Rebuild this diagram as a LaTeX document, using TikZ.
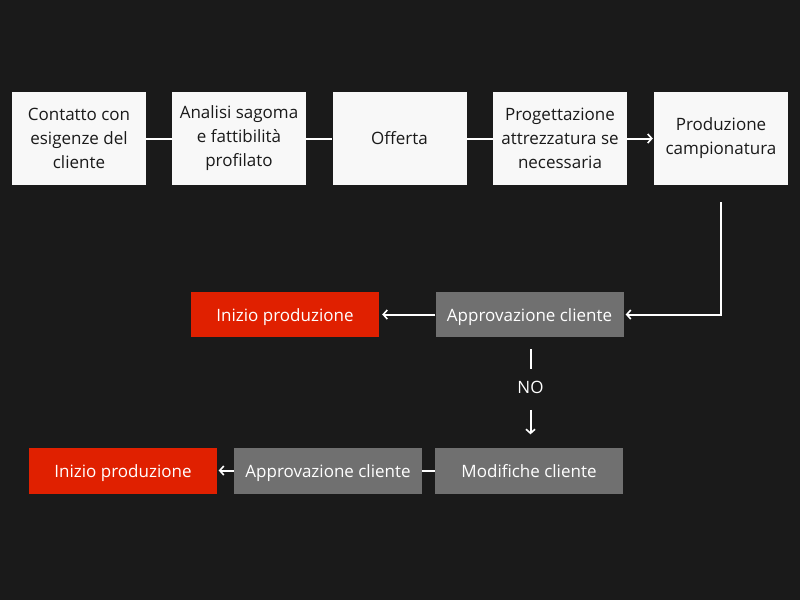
\documentclass[tikz,border=0pt]{standalone}
\usepackage{fontspec}
\setmainfont{Open Sans}
\usepackage{tikz}
\usetikzlibrary{arrows.meta}

\definecolor{bgdark}{RGB}{26,26,26}
\definecolor{boxwhite}{RGB}{248,248,248}
\definecolor{boxgray}{RGB}{112,112,112}
\definecolor{boxred}{RGB}{224,32,0}

\tikzset{
  stepbox/.style={fill=boxwhite, text=bgdark, minimum width=134pt, minimum height=93pt, align=center, inner sep=0pt, font=\fontsize{17}{24}\selectfont},
  graybox/.style={fill=boxgray, text=white, minimum width=188pt, minimum height=45pt, inner sep=0pt, text height=14pt, text depth=1pt, font=\fontsize{17}{24}\selectfont},
  redbox/.style={graybox, fill=boxred},
  conn/.style={draw=white, line width=2pt},
  arr/.style={conn, -{Straight Barb[length=4pt,width=9pt,line width=1.6pt]}}
}

\begin{document}
\begin{tikzpicture}[x=1pt, y=-1pt]
        \fill[bgdark] (0,0) rectangle (800,600);
        \useasboundingbox (0,0) rectangle (800,600);

        %Steps
        \node[stepbox] (contatto) at (79,138.5) {Contatto con\\esigenze del\\cliente};
        \node[stepbox] (analisi) at (239,138.5) {Analisi sagoma\\e fattibilità\\profilato};
        \node[stepbox] (offerta) at (399.5,138.5) {Offerta};
        \node[stepbox] (progetto) at (560,138.5) {Progettazione\\attrezzatura se\\necessaria};
        \node[stepbox] (campioni) at (721,138.5) {Produzione\\campionatura};

        \draw[conn] (contatto) -- (analisi);
        \draw[conn] (analisi) -- (offerta);
        \draw[conn] (offerta) -- (progetto);
        \draw[arr, shorten >=1pt] (progetto) -- (campioni);

        %Approval
        \node[redbox] (inizio) at (285,314.5) {Inizio produzione};
        \node[graybox] (approva) at (529.5,314.5) {Approvazione cliente};
        \coordinate (giu) at ([yshift=-17pt]campioni.south);

        \draw[arr, shorten >=2pt] (giu) |- (approva.east);
        \draw[arr, shorten >=3pt] (approva) -- (inizio);

        \node[text=white, font=\fontsize{17}{24}\selectfont] (no) at (530.5,387) {NO};
        \draw[conn, shorten <=12pt, shorten >=8pt] (approva.south -| no) -- (no.north);

        %Changes
        \node[redbox, minimum height=46pt] (inizio2) at (123,470.5) {Inizio produzione};
        \node[graybox, minimum height=46pt] (approva2) at (328,470.5) {Approvazione cliente};
        \node[graybox, minimum height=46pt] (modifiche) at (529,470.5) {Modifiche cliente};

        \draw[arr, shorten <=13pt, shorten >=13pt] (no.south) -- (modifiche.north -| no);
        \draw[conn] (modifiche) -- (approva2);
        \draw[arr, shorten >=1.5pt] (approva2) -- (inizio2);
\end{tikzpicture}
\end{document}
